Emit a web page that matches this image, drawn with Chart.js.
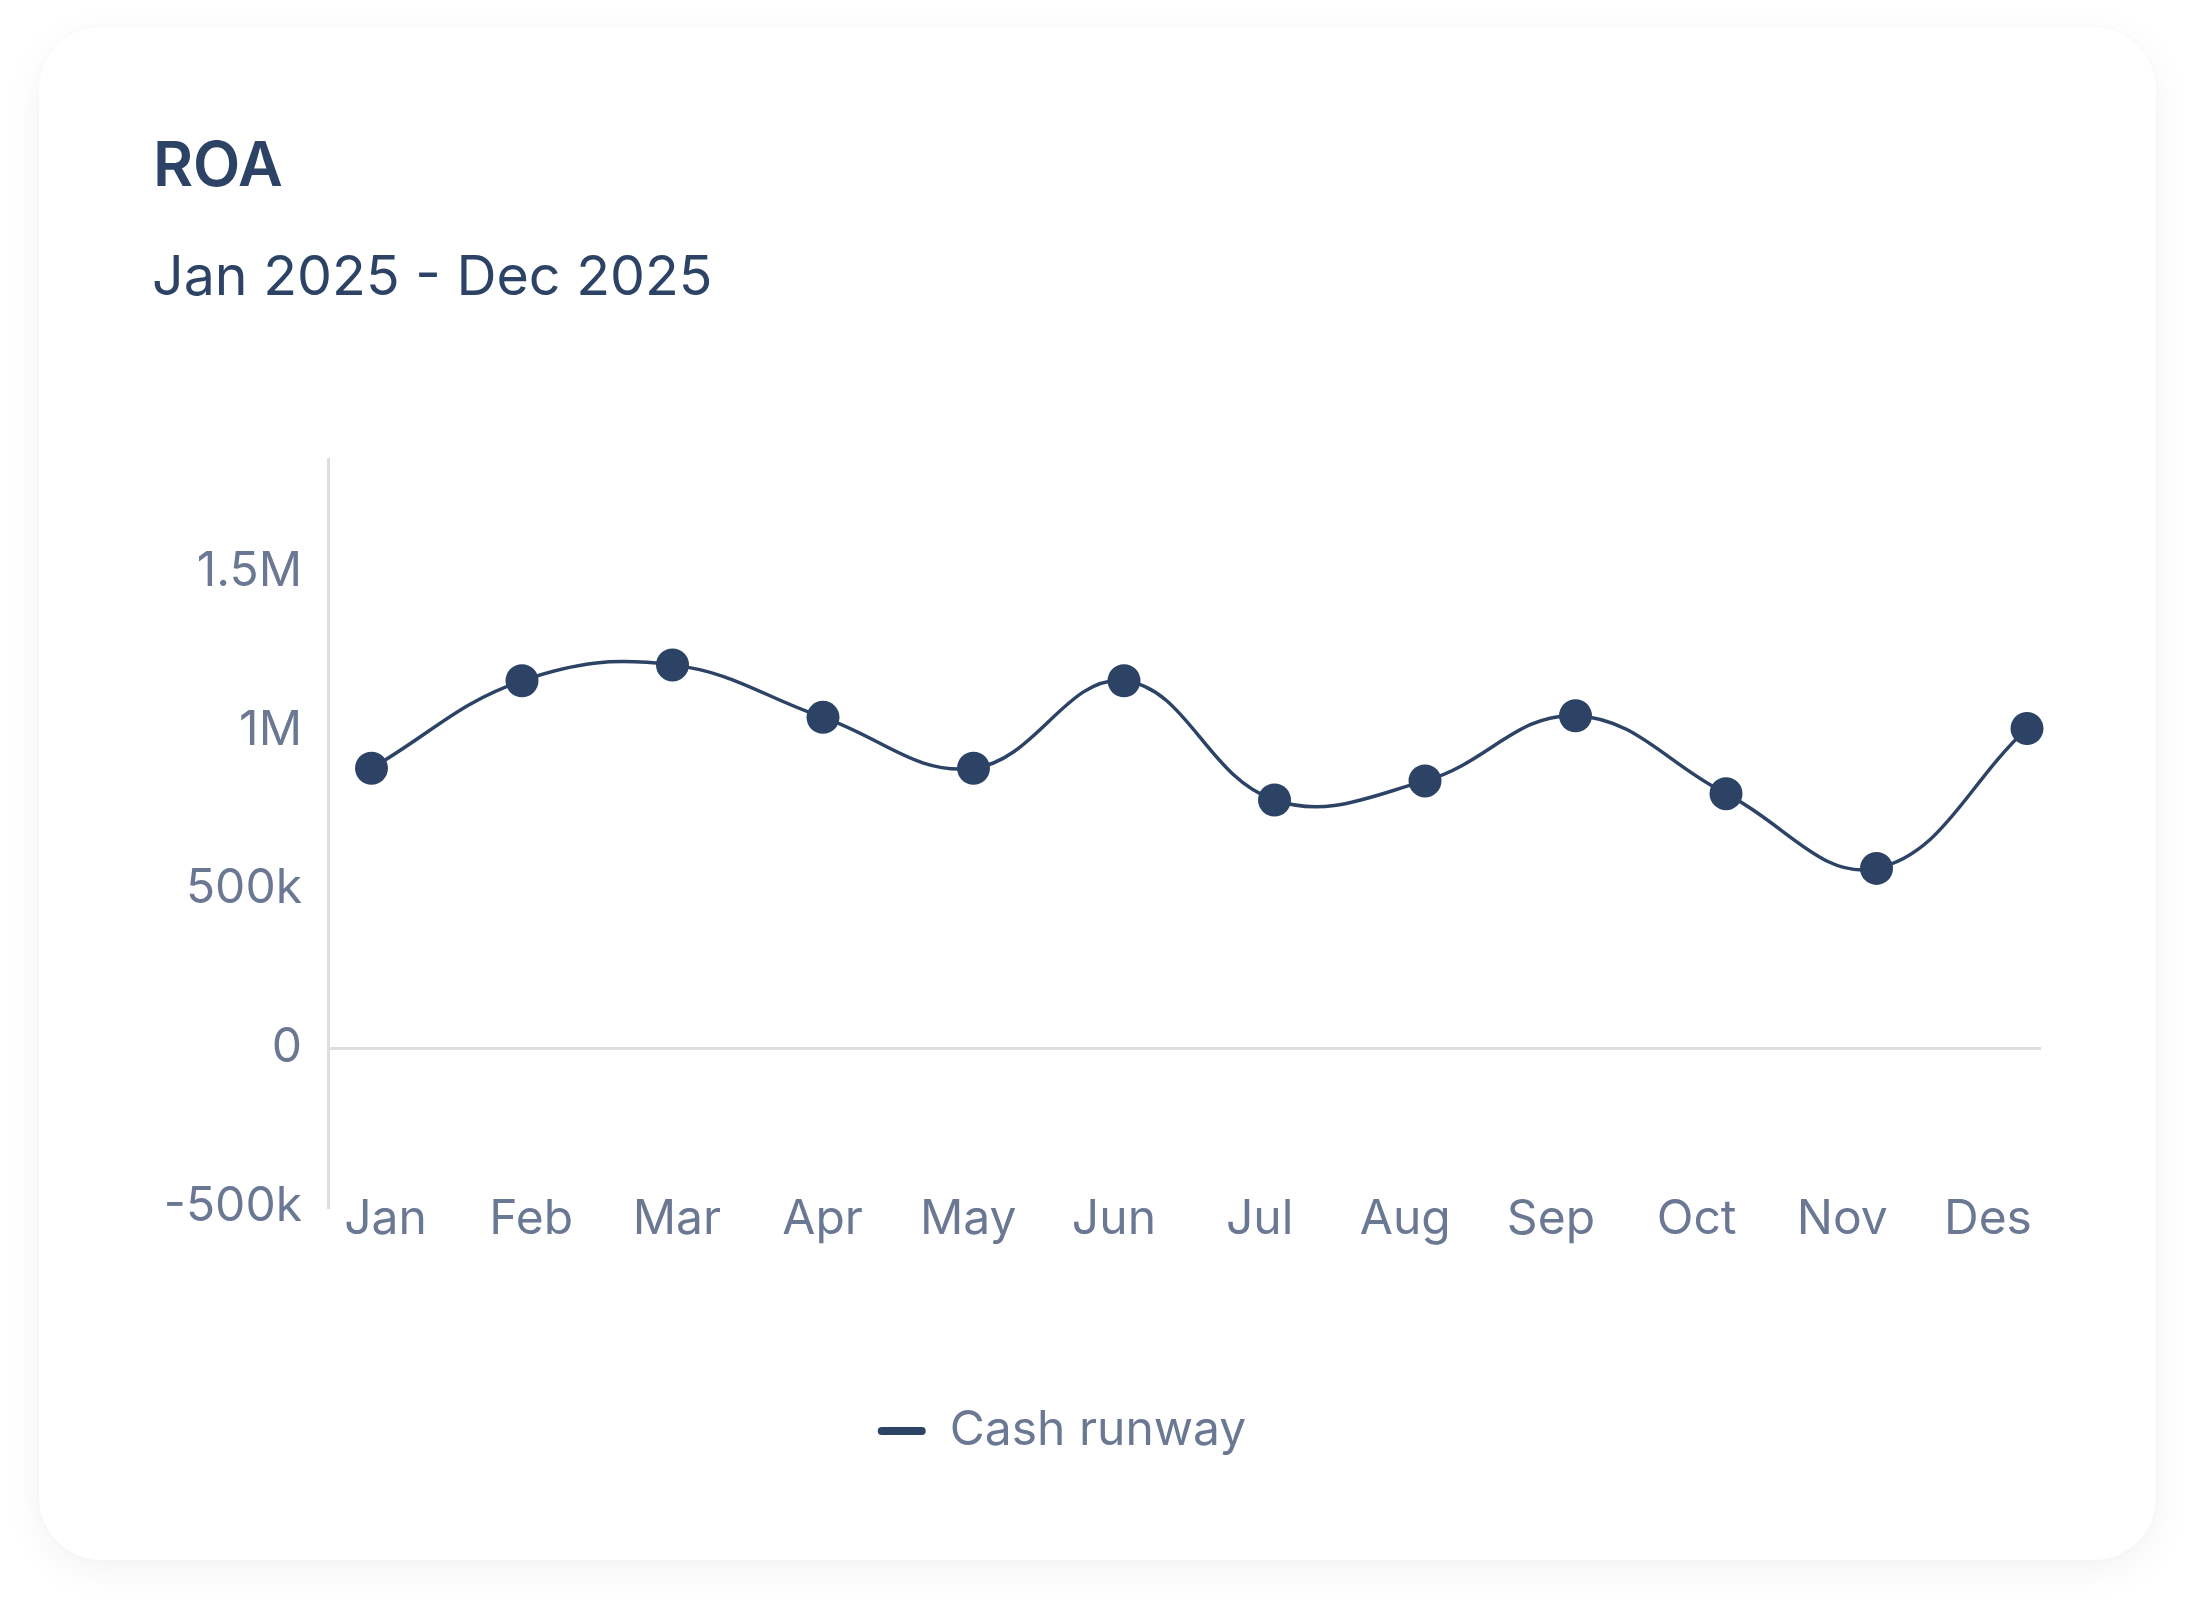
<!DOCTYPE html>
<html>
<head>
<meta charset="utf-8">
<title>ROA</title>
<script src="https://cdn.jsdelivr.net/npm/chart.js@4.4.1/dist/chart.umd.min.js"></script>
<style>
  html, body { margin: 0; padding: 0; background: #fff; }
  body { width: 2196px; height: 1612px; position: relative; overflow: hidden; font-family: 'Inter', sans-serif; }
  .card {
    position: absolute; left: 39px; top: 27px; width: 2117px; height: 1533px;
    background: #fff; border-radius: 62px;
    box-shadow: 0 10px 40px rgba(0,0,0,0.05), 0 0 6px rgba(0,0,0,0.02);
  }
  .title {
    position: absolute; left: 153px; top: 133px; margin: 0;
    font-size: 61.5px; font-weight: 600; line-height: 1; color: #2c4366;
  }
  .subtitle {
    position: absolute; left: 152px; top: 247px; margin: 0;
    font-size: 55.5px; font-weight: 400; line-height: 1; color: #2c4366;
  }
  /* canvas a bit wider than the plot so the last point is not cut */
  .chart-wrap { position: absolute; left: 83px; top: 405px; width: 1988px; height: 1060px; }
</style>
</head>
<body>
<div class="card"></div>
<h1 class="title">ROA</h1>
<p class="subtitle">Jan 2025 - Dec 2025</p>
<div class="chart-wrap"><canvas id="chart-roa"></canvas></div>

<script>
// data
const months = ['Jan', 'Feb', 'Mar', 'Apr', 'May', 'Jun', 'Jul', 'Aug', 'Sep', 'Oct', 'Nov', 'Des'];
const cashRunway = [880000, 1155000, 1205000, 1040000, 880000, 1155000, 780000, 840000, 1045000, 800000, 565000, 1005000];
const yTicks = [-500000, 0, 500000, 1000000, 1500000];
const yTickLabels = ['-500k', '0', '500k', '1M', '1.5M'];

const NAVY = '#2c4366';
const TEXT = '#6b7894';
const LINE_GRAY = '#dedede';

Chart.defaults.font.family = "'Inter', 'Noto Sans', sans-serif";
Chart.defaults.font.size = 48;
Chart.defaults.color = TEXT;

const ctx = document.getElementById('chart-roa');

ctx.chart = new Chart(ctx, {
  type: 'line',
  data: {
    datasets: [{
      label: 'Cash runway',
      data: cashRunway.map((v, i) => ({ x: i, y: v })),
      borderColor: NAVY,
      backgroundColor: NAVY,
      borderWidth: 3.5,
      tension: 0.4,
      pointRadius: 16.5,
      pointBorderWidth: 0,
      pointBackgroundColor: NAVY,
      fill: false,
      clip: false,
      xAxisID: 'x',
      yAxisID: 'y'
    }]
  },
  options: {
    responsive: true,
    maintainAspectRatio: false,
    animation: false,
    layout: { autoPadding: false, padding: { top: 0, left: 0, bottom: 0, right: 30 } },
    plugins: {
      legend: {
        position: 'bottom',
        labels: {
          color: TEXT,
          font: { size: 48 },
          boxWidth: 48,
          boxHeight: 8,
          useBorderRadius: true,
          borderRadius: 4,
          padding: 10,
          generateLabels: (chart) =>
            Chart.defaults.plugins.legend.labels.generateLabels(chart).map(l => ({ ...l, lineWidth: 0 }))
        }
      },
      tooltip: { enabled: false }
    },
    scales: {
      // positions of the points (hidden)
      x: {
        type: 'linear',
        display: false,
        min: -0.289,
        max: 11.093
      },
      // month labels, spaced on their own axis
      xLabels: {
        type: 'linear',
        position: 'bottom',
        min: -0.395,
        max: 11.364,
        afterBuildTicks: (axis) => { axis.ticks = months.map((_, i) => ({ value: i })); },
        afterFit: (axis) => { axis.height = 190; },
        ticks: {
          autoSkip: false,
          maxRotation: 0,
          mirror: true,
          padding: -41.6,
          color: TEXT,
          font: { size: 48 },
          callback: (v) => months[v]
        },
        grid: { display: false, drawTicks: false },
        border: { display: false }
      },
      y: {
        min: -500000,
        max: 1850000,
        afterBuildTicks: (axis) => { axis.ticks = yTicks.map(v => ({ value: v })); },
        afterFit: (axis) => { axis.width = 245; },
        ticks: {
          padding: 26,
          color: TEXT,
          font: { size: 48 },
          callback: (v) => yTickLabels[yTicks.indexOf(v)]
        },
        grid: {
          drawTicks: false,
          color: (c) => (c.tick && c.tick.value === 0 ? LINE_GRAY : 'transparent'),
          lineWidth: 3
        },
        border: { display: true, color: LINE_GRAY, width: 3 }
      }
    }
  }
});
</script>
</body>
</html>
